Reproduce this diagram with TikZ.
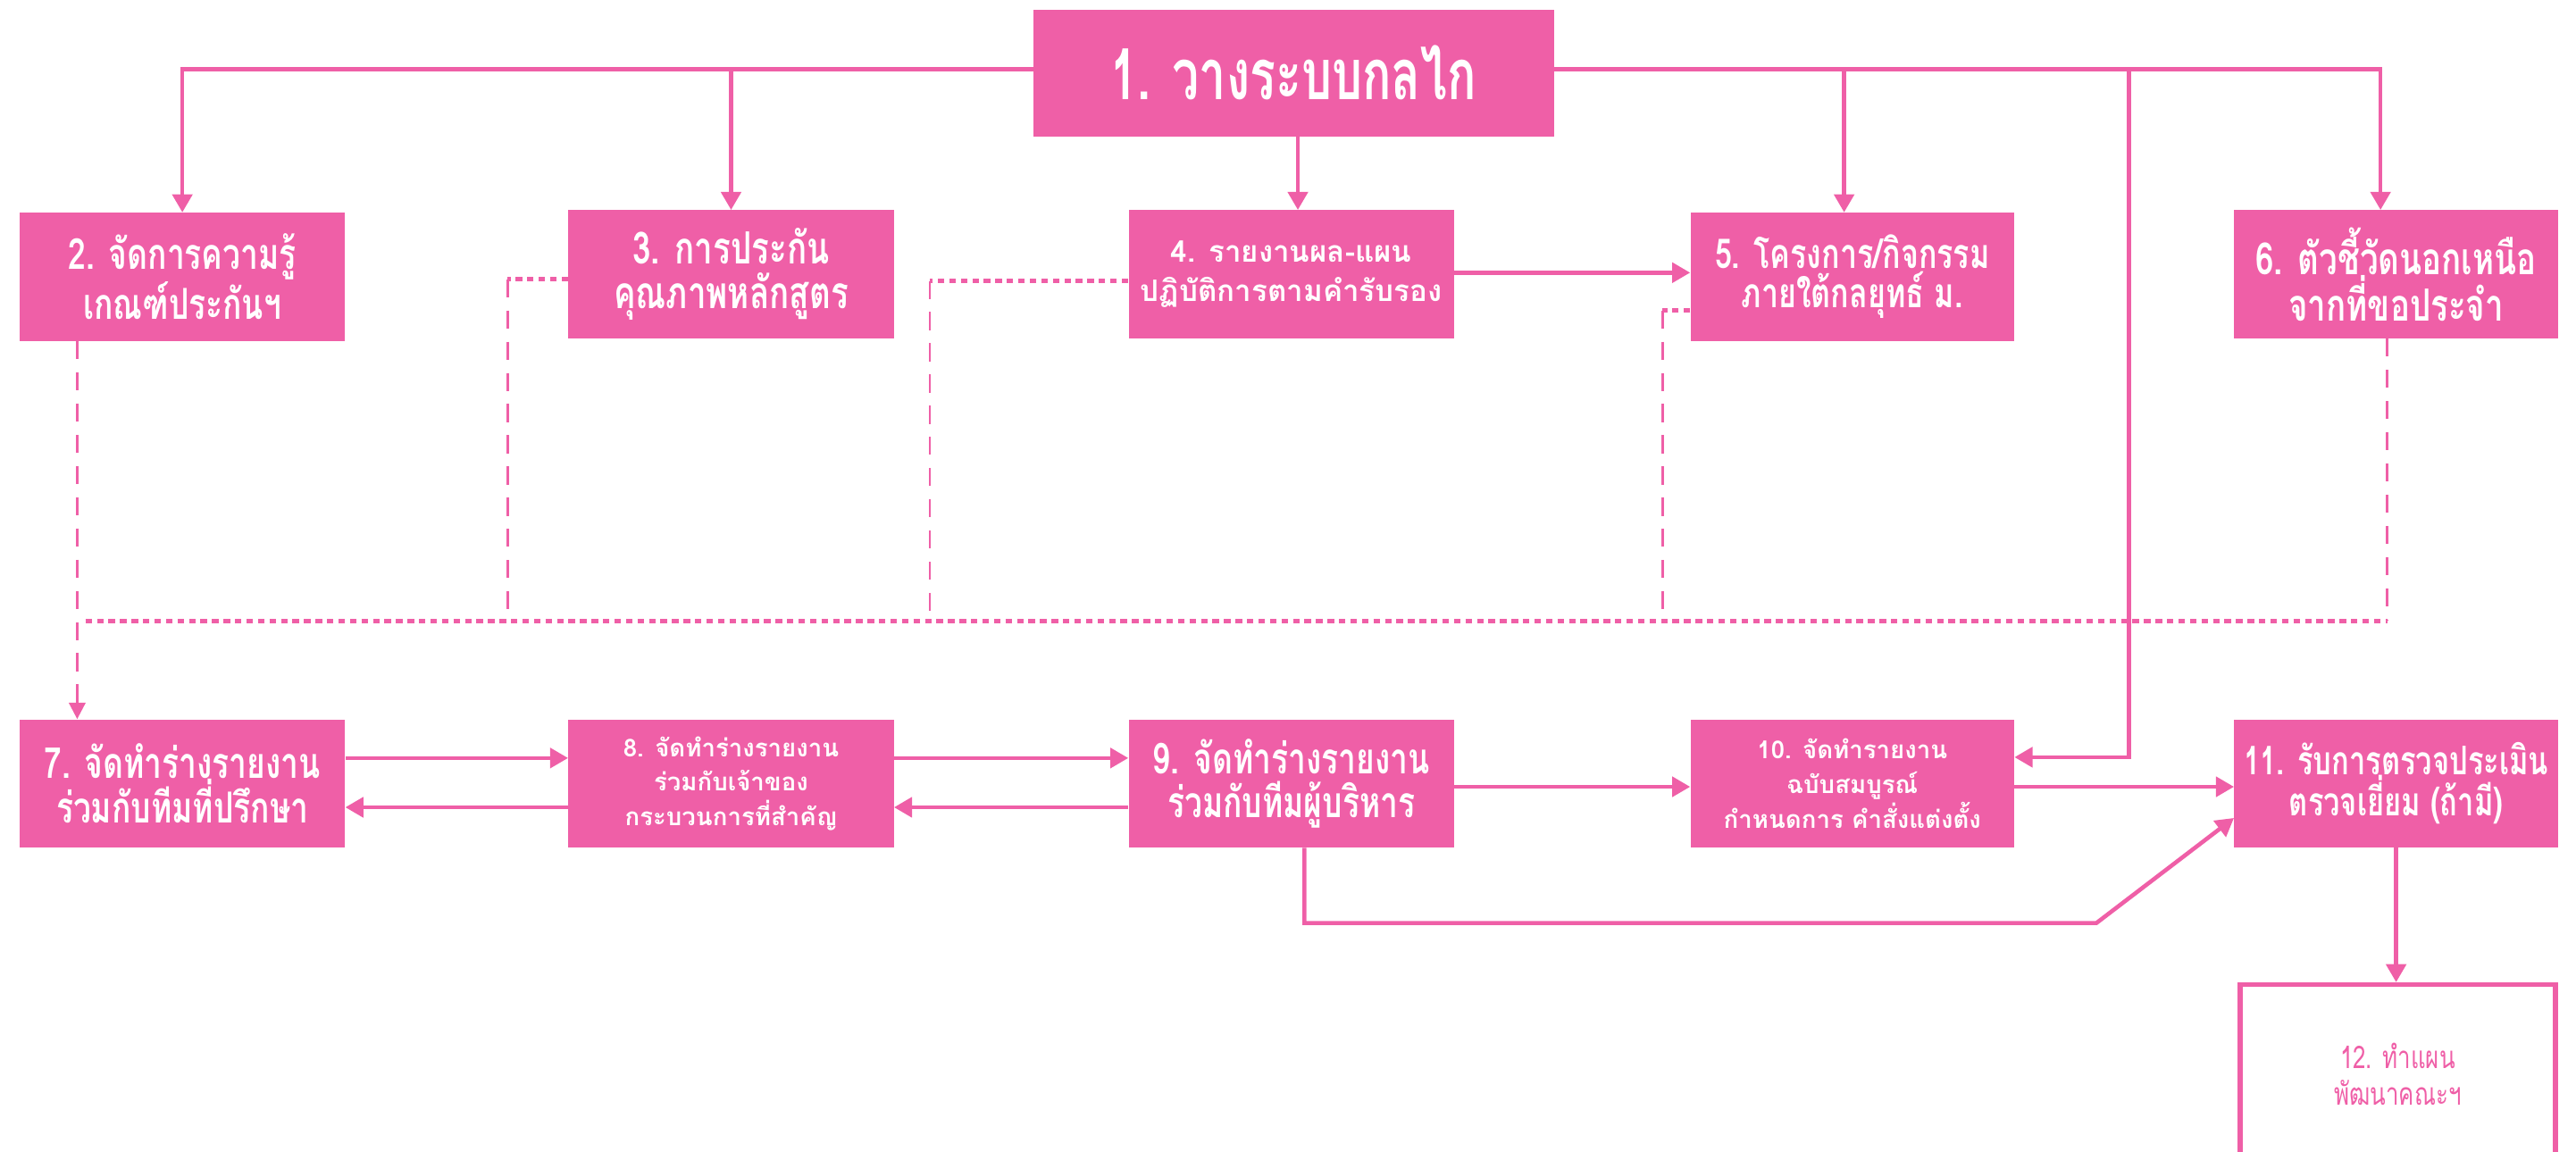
\documentclass[tikz,border=0pt]{standalone}
\usepackage{fontspec}
\newfontfamily\thaiA[Script=Thai,FakeStretch=0.68]{Loma}
\newfontfamily\thaiB[Script=Thai,FakeStretch=0.74]{Loma}
\newfontfamily\thaiR[Script=Thai]{Loma}
\usetikzlibrary{arrows.meta,calc}
\definecolor{pk}{RGB}{239,95,167}
\begin{document}
\begin{tikzpicture}[x=1pt,y=-1pt,
  box/.style={fill=pk,draw=none,text=white,align=center,inner sep=0pt,minimum width=198pt,minimum height=78pt},
  fbig/.style={font={\thaiB\bfseries\fontsize{#1}{27}\selectfont}},
  fbig/.default=26,
  fmid/.style={font={\thaiR\bfseries\fontsize{18}{24}\selectfont}},
  fsmall/.style={font={\thaiR\bfseries\fontsize{15}{21}\selectfont}},
  conn/.style={draw=pk,line width=2.5pt},
  arr/.style={conn,-{Triangle[length=11pt,width=12pt]}},
  dashv/.style={draw=pk,line width=1.5pt,dash pattern=on 11pt off 8pt},
  doth/.style={draw=pk,line width=2.5pt,dash pattern=on 4pt off 3pt},
]
\useasboundingbox (0,0) rectangle (1568,701);
% top row
\node[box,minimum width=317pt,minimum height=77pt,font={\thaiA\bfseries\fontsize{43}{46}\selectfont}] (b1) at (787.5,44.5) {1. วางระบบกลไก};
\node[box,fbig] (b2) at (111,168.5) {2. จัดการความรู้\\เกณฑ์ประกันฯ};
\node[box,fbig=27] (b3) at (445,167) {3. การประกัน\\คุณภาพหลักสูตร};
\node[box,fmid] (b4) at (786,167) {4. รายงานผล-แผน\\ปฏิบัติการตามคำรับรอง};
\node[box,font={\thaiB\bfseries\fontsize{25}{24}\selectfont},minimum width=197pt] (b5) at (1127.5,168.5) {5. โครงการ/กิจกรรม\\ภายใต้กลยุทธ์ ม.};
\node[box,font={\thaiB\bfseries\fontsize{27}{28}\selectfont},minimum width=197pt] (b6) at (1458.5,167) {6. ตัวชี้วัดนอกเหนือ\\จากที่ขอประจำ};
% bottom row
\node[box,fbig] (b7) at (111,477) {7. จัดทำร่างรายงาน\\ร่วมกับทีมที่ปรึกษา};
\node[box,fsmall] (b8) at (445,477) {8. จัดทำร่างรายงาน\\ร่วมกับเจ้าของ\\กระบวนการที่สำคัญ};
\node[box,fbig] (b9) at (786,477) {9. จัดทำร่างรายงาน\\ร่วมกับทีมผู้บริหาร};
\node[box,fsmall,minimum width=197pt] (b10) at (1127.5,477) {10. จัดทำรายงาน\\ฉบับสมบูรณ์\\กำหนดการ คำสั่งแต่งตั้ง};
\node[box,font={\thaiB\bfseries\fontsize{24}{25}\selectfont},minimum width=197pt] (b11) at (1458.5,477) {11. รับการตรวจประเมิน\\ตรวจเยี่ยม (ถ้ามี)};
\node[draw=pk,line width=3pt,text=pk,align=center,inner sep=0pt,minimum width=192pt,minimum height=109pt,
  font={\thaiB\fontsize{19}{22}\selectfont}] (b12) at (1459.5,654) {12. ทำแผน\\พัฒนาคณะฯ};
% top distribution
\coordinate (T) at (0,42);
\draw[arr] ($(b1.west)+(0,-2.5)$) -| (b2.north);
\draw[arr] (b3.north |- T) -- (b3.north);
\draw[arr] ([xshift=4pt]b1.south -| b4.north) -- ([xshift=4pt]b4.north);
\draw[arr] ($(b1.east)+(0,-2.5)$) -| ([xshift=-9.5pt]b6.north);
\draw[arr] ([xshift=-5pt]b5.north |- T) -- ([xshift=-5pt]b5.north);
\draw[arr] (1296,42) |- ($(b10.east)+(0,-16)$);
\draw[arr] ($(b4.east)+(0,-1)$) -- ($(b5.west)+(0,-2.5)$);
% dashed feedback
\coordinate (dl) at (52,378);
\coordinate (dr) at (1453,378);
\draw[doth] (dl) -- (dr);
\draw[dashv,-{Triangle[length=10pt,width=10pt]}] ([xshift=-64pt]b2.south) -- ([xshift=-64pt]b7.north);
\draw[doth] ($(b3.west)+(0,3)$) -- (309,170);
\draw[dashv] (309,170) -- (309,378);
\draw[doth] ($(b4.west)+(0,4)$) -- (566,171);
\draw[dashv] (566,171) -- (566,378);
\draw[doth] ($(b5.west)+(0,20.5)$) -- (1012,189);
\draw[dashv] (1012,189) -- (1012,378);
\draw[dashv] ([xshift=-5.5pt]b6.south) -- (dr);
% bottom row connectors
\draw[arr] ($(b7.east)+(0,-15.5)$) -- ($(b8.west)+(0,-15.5)$);
\draw[arr] ($(b8.west)+(0,14.5)$) -- ($(b7.east)+(0,14.5)$);
\draw[arr] ($(b8.east)+(0,-15.5)$) -- ($(b9.west)+(0,-15.5)$);
\draw[arr] ($(b9.west)+(0,14.5)$) -- ($(b8.east)+(0,14.5)$);
\draw[arr] ($(b9.east)+(0,2)$) -- ($(b10.west)+(0,2)$);
\draw[arr] ($(b10.east)+(0,2)$) -- ($(b11.west)+(0,2)$);
\coordinate (k) at (1276,562);
\draw[arr] ([xshift=8pt]b9.south) |- (k) -- ($(b11.west)+(0,21)$);
\draw[arr] (b11.south) -- (b11.south |- b12.north);
\end{tikzpicture}
\end{document}
